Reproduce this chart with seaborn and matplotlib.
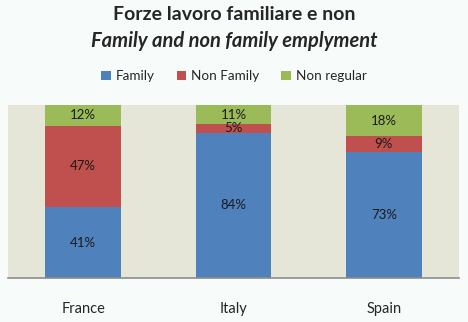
import matplotlib
matplotlib.use("Agg")
import matplotlib.pyplot as plt
import seaborn as sns
import numpy as np
import pandas as pd

countries = ["France", "Italy", "Spain"]
series_names = ["Family", "Non Family", "Non regular"]
family = [41, 84, 73]
non_family = [47, 5, 9]
non_regular = [12, 11, 18]
colors = ["#4F81BD", "#C0504D", "#9BBB59"]

sns.set_theme(style="white")
plt.rcParams["font.family"] = ["Lato", "DejaVu Sans"]

fig = plt.figure(figsize=(4.68, 3.22), dpi=100, facecolor="#F7FBF9")
ax = fig.add_axes([8 / 468, 1 - 278 / 322, 451 / 468, 173 / 322])
ax.set_facecolor("#E6E6D8")

values = [family, non_family, non_regular]
bottom = np.zeros(len(countries))
for name, vals, col in zip(series_names, values, colors):
    df = pd.DataFrame({"country": countries, "share": vals})
    sns.barplot(data=df, x="country", y="share", color=col, width=0.505,
                bottom=bottom, ax=ax, saturation=1, edgecolor="none",
                linewidth=0, label=name)
    cont = ax.containers[-1]
    ax.bar_label(cont, labels=[f"{v}%" for v in vals], label_type="center",
                 fontsize=9.5, color="#1a1a1a")
    bottom = bottom + np.array(vals)

ax.set_ylim(0, 100)
ax.set_xlim(-0.5, 2.5)
ax.set_xlabel("")
ax.set_ylabel("")
ax.set_yticks([])
ax.tick_params(axis="x", length=0, pad=17, labelsize=10.5)
for s in ["top", "left", "right"]:
    ax.spines[s].set_visible(False)
ax.spines["bottom"].set_color("#8c8c8c")
ax.spines["bottom"].set_linewidth(1.2)

leg = ax.legend(loc="center", bbox_to_anchor=(0.5, (322 - 76) / 322),
                bbox_transform=fig.transFigure, ncol=3, frameon=False,
                fontsize=9.7, handlelength=0.7, handleheight=0.7,
                handletextpad=0.4, columnspacing=1.6)

fig.text(0.5, 1 - 15 / 322, "Forze lavoro familiare e non", ha="center",
         va="center", fontsize=14, fontweight="bold")
fig.text(0.5, 1 - 41 / 322, "Family and non family emplyment", ha="center",
         va="center", fontsize=14.5, fontweight="bold", fontstyle="italic")

fig.savefig("out.png", dpi=100, facecolor=fig.get_facecolor())
